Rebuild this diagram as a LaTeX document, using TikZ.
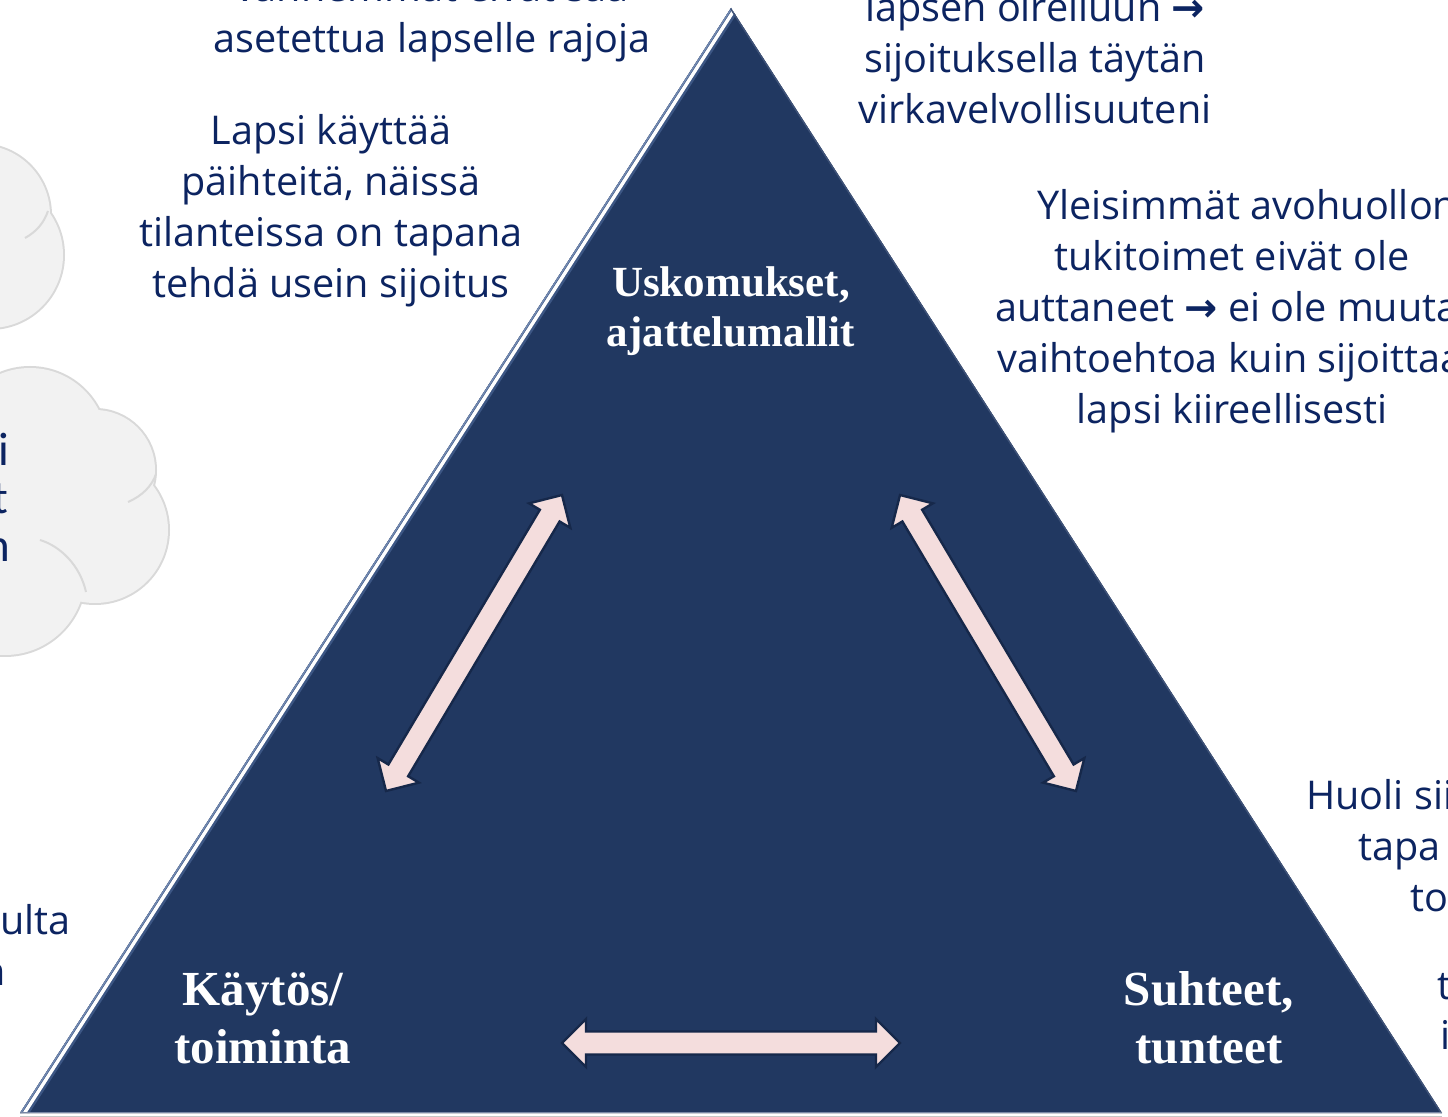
\documentclass[tikz,border=0pt]{standalone}
\usepackage{fontspec}
\setmainfont{Liberation Serif}
\newfontfamily\handfont{Open Sans}
\newfontfamily\cloudfont{Carlito}
\newfontfamily\symfont{DejaVu Sans}
\newcommand{\rarr}{{\symfont\bfseries\char"2192}}
\usetikzlibrary{calc}
\definecolor{navyfill}{RGB}{33,56,97}
\definecolor{inkblue}{RGB}{12,36,97}
\definecolor{arrowpink}{RGB}{244,221,221}
\definecolor{arrowedge}{RGB}{22,40,74}
\definecolor{cloudfill}{RGB}{242,242,242}
\definecolor{cloudline}{RGB}{217,217,217}
\definecolor{bevelin}{RGB}{60,86,132}
\definecolor{bevelout}{RGB}{115,138,178}
\definecolor{rightedge}{RGB}{62,82,120}
\definecolor{bottomedge}{RGB}{120,135,165}
\newcommand{\dblarrow}[2]{%
  \path ($(#1)!12pt!(#2)$) coordinate (#1h) ($(#2)!12pt!(#1)$) coordinate (#2h);
  \filldraw[arrowshape] (#1) -- ($(#1h)!12pt!90:(#2)$) -- ($(#1h)!5.75pt!90:(#2)$)
    -- ($(#2h)!5.75pt!-90:(#1)$) -- ($(#2h)!12pt!-90:(#1)$) -- (#2)
    -- ($(#2h)!12pt!90:(#1)$) -- ($(#2h)!5.75pt!90:(#1)$)
    -- ($(#1h)!5.75pt!-90:(#2)$) -- ($(#1h)!12pt!-90:(#2)$) -- cycle;}
\tikzset{
  hand/.style={font=\handfont\fontsize{19.8pt}{25.5pt}\selectfont, text=inkblue, align=center, inner sep=0pt},
  cloudtext/.style={font=\cloudfont\fontsize{23.5pt}{24pt}\selectfont, text=inkblue, inner sep=0pt},
  triLabelTop/.style={font=\bfseries\fontsize{21.5pt}{25pt}\selectfont, text=white, align=center, inner sep=0pt},
  triLabelBot/.style={font=\bfseries\fontsize{24.5pt}{28.5pt}\selectfont, text=white, align=center, inner sep=0pt},
  arrowshape/.style={fill=arrowpink, draw=arrowedge, line width=1.2pt, line join=miter},
  cloudshape/.style={fill=cloudfill, draw=cloudline, line width=2pt},
}
\begin{document}
\begin{tikzpicture}[x=0.5pt,y=-0.5pt]
\useasboundingbox (0,0) rectangle (1448,1117);
\clip (0,0) rectangle (1448,1117);
\fill[white] (0,0) rectangle (1448,1117);

% clouds (left edge)
\begin{scope}
  \foreach \cx/\cy/\r in {-20/215/35, -10/255/36.5} \draw[cloudshape] (\cx,\cy) circle[radius=\r pt];
  \foreach \cx/\cy/\r in {-20/215/35, -10/255/36.5} \fill[cloudfill] (\cx,\cy) circle[radius=\r pt];
  \draw[cloudline, line width=1pt] (25,238) .. controls (36,232) and (44,223) .. (48,211);
  \foreach \cx/\cy/\r in {30/445/38.5, 95/470/30, 95/530/36.5, 5/575/40, -40/500/45} \draw[cloudshape] (\cx,\cy) circle[radius=\r pt];
  \foreach \cx/\cy/\r in {30/445/38.5, 95/470/30, 95/530/36.5, 5/575/40, -40/500/45} \fill[cloudfill] (\cx,\cy) circle[radius=\r pt];
  \draw[cloudline, line width=1pt] (128,502) .. controls (142,496) and (152,486) .. (156,474);
  \draw[cloudline, line width=1pt] (40,540) .. controls (60,546) and (80,565) .. (86,592);
\end{scope}
\node[cloudtext, anchor=base east] (cl1) at (10,466) {i};
\node[cloudtext, anchor=base east] (cl2) at (9,514) {t};
\node[cloudtext, anchor=base east] (cl3) at (11,562) {n};

% triangle
\coordinate (apex) at (731,8);
\coordinate (bl) at (20,1113);
\coordinate (br) at (1442,1113);
\foreach \k in {1,...,14}
  \fill[black, opacity=0.02, xshift=-\k*2pt] (apex) -- (bl) -- (br) -- cycle;
\draw[gray!45, line width=1pt] ([yshift=-2pt]bl) -- ([yshift=-2pt]br);
\fill[navyfill] (apex) -- (bl) -- (br) -- cycle;
\begin{scope}
  \clip (apex) -- (bl) -- (br) -- cycle;
  \draw[bevelin, line width=8pt] (apex) -- (bl);
  \draw[white, line width=1.7pt] ($(apex)+(4.5,0)$) -- ($(bl)+(4.5,0)$);
  \draw[bevelout, line width=1.4pt] (apex) -- (bl);
  \draw[rightedge, line width=1.4pt] (apex) -- (br);
  \draw[bottomedge, line width=1.4pt] (bl) -- (br);
\end{scope}

% arrows
\coordinate (la1) at (386,791);
\coordinate (la2) at (562,495);
\coordinate (ra1) at (900,495);
\coordinate (ra2) at (1076,791);
\coordinate (ba1) at (562,1043);
\coordinate (ba2) at (900,1043);
\dblarrow{la1}{la2}
\dblarrow{ra1}{ra2}
\dblarrow{ba1}{ba2}

% labels in triangle (anchor=base is the last line's baseline)
\node[triLabelTop, anchor=base] (beliefs) at (731,347) {Uskomukset,\\ajattelumallit};
\node[triLabelBot, anchor=base] (behaviour) at (263,1063) {Käytös/\\toiminta};
\node[triLabelBot, anchor=base] (relations) at (1209,1063) {Suhteet,\\tunteet};

% handwritten notes
\node[hand, anchor=base] (noteTL) at (432,53) {vanhemmat eivät saa\\asetettua lapselle rajoja};
\node[hand, anchor=base] (noteL) at (331,298) {Lapsi käyttää\\päihteitä, näissä\\tilanteissa on tapana\\tehdä usein sijoitus};
\node[hand, anchor=base] (noteTR) at (1035,124) {lapsen oireiluun \rarr\\sijoituksella täytän\\virkavelvollisuuteni};
\node[hand, anchor=base west] (noteR) at (1037,220) {Yleisimmät avohuollon};
\node[hand, anchor=base] (noteR2) at (1232,271) {tukitoimet eivät ole};
\node[hand, anchor=base west] (noteR3) at (995,322) {auttaneet \rarr{} ei ole muuta};
\node[hand, anchor=base west] (noteR4) at (997,373) {vaihtoehtoa kuin sijoittaa};
\node[hand, anchor=base] (noteR5) at (1232,424) {lapsi kiireellisesti};
\node[hand, anchor=base west] (noteBR1) at (1306,810) {Huoli siitä};
\node[hand, anchor=base west] (noteBR2) at (1358,861) {tapa};
\node[hand, anchor=base west] (noteBR3) at (1410,912) {to};
\node[hand, anchor=base west] (noteBR4) at (1437,1000) {t};
\node[hand, anchor=base west] (noteBR5) at (1440,1050) {i};
\node[hand, anchor=base east] (noteBL1) at (71,935) {ulta};
\node[hand, anchor=base east] (noteBL2) at (6,986) {n};
\end{tikzpicture}
\end{document}
